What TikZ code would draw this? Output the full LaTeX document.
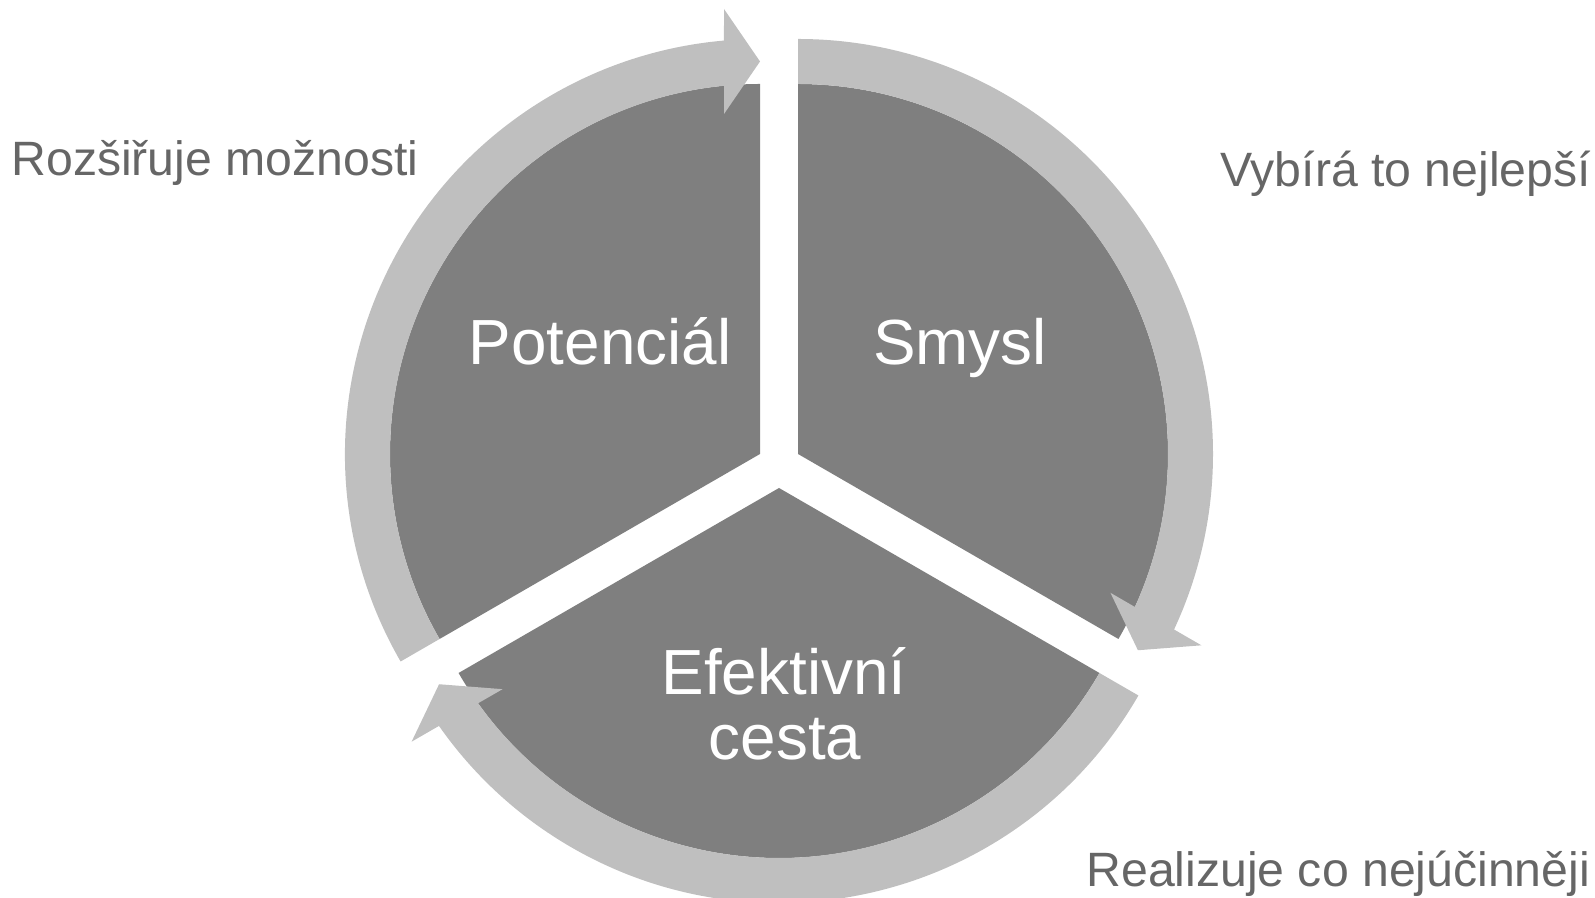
\documentclass[tikz,border=0pt]{standalone}
\usepackage{fontspec}
\setmainfont{Liberation Sans}
\definecolor{secgray}{HTML}{7F7F7F}
\definecolor{bandgray}{HTML}{BFBFBF}
\definecolor{labgray}{HTML}{666666}
\begin{document}
\begin{tikzpicture}[x=0.5pt,y=0.5pt,
  sector/.style={fill=secgray,draw=none},
  band/.style={fill=bandgray,draw=none},
  seclabel/.style={text=white,inner sep=0pt,anchor=base,font=\fontsize{31.9pt}{33pt}\selectfont},
  outlabel/.style={text=labgray,inner sep=0pt,anchor=base west,font=\fontsize{24.1pt}{28pt}\selectfont}]
\useasboundingbox (0,0) rectangle (1595,898);
% centres of the three (exploded) sectors
\coordinate (cTL) at (760,444);
\coordinate (cTR) at (798,444);
\coordinate (cB) at (779,410);
% sectors
\fill[sector] (cTL) -- ++(90:370) arc[start angle=90,end angle=210,radius=370] -- cycle;
\fill[sector] (cTR) -- ++(-30:370) arc[start angle=-30,end angle=90,radius=370] -- cycle;
\fill[sector] (cB) -- ++(210:370) arc[start angle=210,end angle=330,radius=370] -- cycle;
% curved arrows (canonical: tail at 210, tip at 90, clockwise)
\def\cyclearrow{%
  \fill[band] (210:415) arc[start angle=210,end angle=94.98,radius=415]
    -- (-36,445) -- (0,392.5) -- (-36,340)
    -- (95.58:370) arc[start angle=95.58,end angle=210,radius=370] -- cycle;}
\begin{scope}[shift={(cTL)}]\cyclearrow\end{scope}
\begin{scope}[shift={(cTR)},rotate=-120]\cyclearrow\end{scope}
\begin{scope}[shift={(cB)},rotate=120]\cyclearrow\end{scope}
% labels
\node[seclabel] (pot) at (600,533) {Potenciál};
\node[seclabel] (smy) at (960,533) {Smysl};
\node[seclabel] (ef1) at (784,203) {Efektivní};
\node[seclabel] (ef2) at (785,138) {cesta};
\node[outlabel] (roz) at (11,722) {Rozšiřuje možnosti};
\node[outlabel] (vyb) at (1220,711) {Vybírá to nejlepší};
\node[outlabel] (rea) at (1086,11) {Realizuje co nejúčinněji};
\end{tikzpicture}
\end{document}
